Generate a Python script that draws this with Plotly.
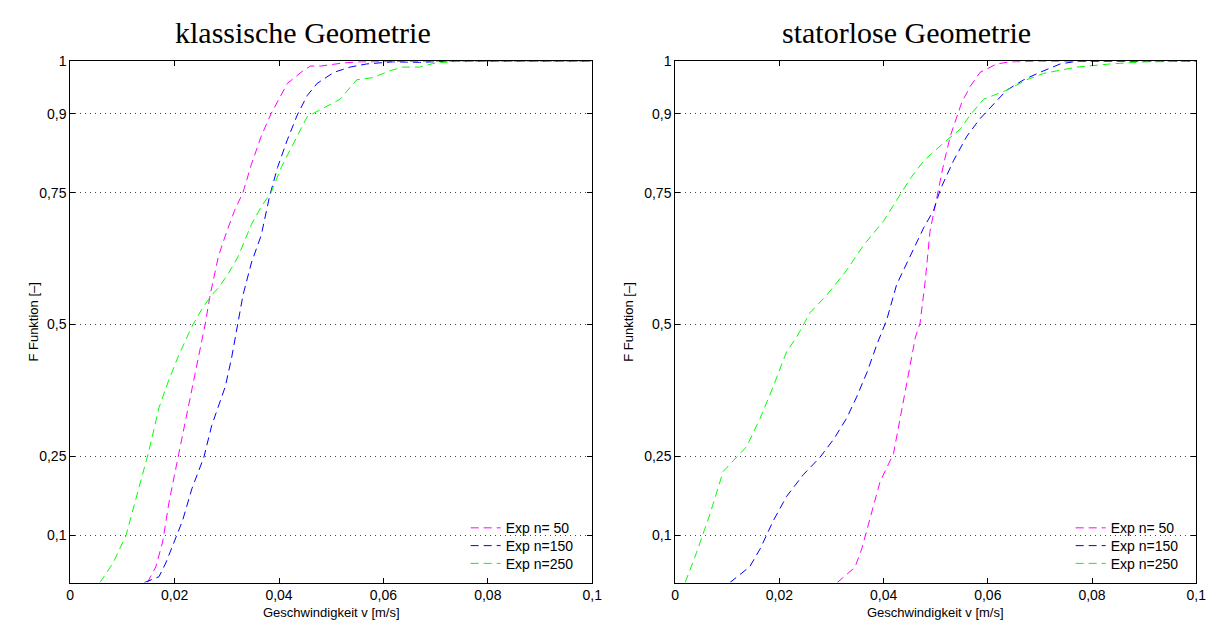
import plotly.graph_objects as go

# ---------------- data ----------------
# left: klassische Geometrie
kl_n50_x = [0.0148, 0.0164, 0.0177, 0.0189, 0.0208, 0.0221, 0.0240, 0.0259, 0.0268, 0.0284, 0.0300,
            0.0315, 0.0331, 0.0347, 0.0366, 0.0385, 0.0416, 0.0442, 0.0460, 0.0480, 0.0524, 0.0555, 0.0650, 0.1000]
kl_n50_y = [0.010, 0.040, 0.087, 0.161, 0.255, 0.320, 0.409, 0.503, 0.556, 0.630, 0.677,
            0.717, 0.751, 0.804, 0.858, 0.901, 0.958, 0.979, 0.991, 0.991, 0.997, 0.999, 1.000, 1.000]

kl_n150_x = [0.0142, 0.0170, 0.0183, 0.0202, 0.0215, 0.0233, 0.0256, 0.0271, 0.0297, 0.0309, 0.0322,
             0.0331, 0.0347, 0.0366, 0.0382, 0.0397, 0.0416, 0.0435, 0.0454, 0.0473, 0.0505, 0.0536,
             0.0568, 0.0618, 0.0669, 0.0720, 0.1000]
kl_n150_y = [0.010, 0.021, 0.047, 0.094, 0.127, 0.188, 0.248, 0.308, 0.382, 0.436, 0.509,
             0.556, 0.617, 0.670, 0.744, 0.798, 0.851, 0.898, 0.935, 0.958, 0.979, 0.989,
             0.995, 0.999, 0.998, 1.000, 1.000]

kl_n250_x = [0.0057, 0.0082, 0.0107, 0.0126, 0.0151, 0.0170, 0.0189, 0.0208, 0.0233, 0.0252, 0.0271,
             0.0284, 0.0303, 0.0322, 0.0347, 0.0366, 0.0385, 0.0404, 0.0429, 0.0454, 0.0479, 0.0517,
             0.0549, 0.0580, 0.0612, 0.0637, 0.0669, 0.0700, 0.0745, 0.1000]
kl_n250_y = [0.010, 0.047, 0.100, 0.168, 0.261, 0.342, 0.395, 0.442, 0.496, 0.529, 0.556,
             0.570, 0.597, 0.630, 0.690, 0.724, 0.751, 0.798, 0.845, 0.895, 0.908, 0.928,
             0.965, 0.969, 0.982, 0.989, 0.989, 0.997, 1.000, 1.000]

# right: statorlose Geometrie
st_n50_x = [0.0311, 0.0345, 0.0358, 0.0374, 0.0393, 0.0419, 0.0432, 0.0445, 0.0461, 0.0470, 0.0480,
            0.0489, 0.0502, 0.0515, 0.0528, 0.0541, 0.0550, 0.0566, 0.0585, 0.0617, 0.0643, 0.0700, 0.1000]
st_n50_y = [0.010, 0.039, 0.074, 0.134, 0.201, 0.255, 0.322, 0.389, 0.476, 0.503, 0.584,
            0.677, 0.744, 0.804, 0.858, 0.898, 0.922, 0.952, 0.979, 0.995, 0.999, 1.000, 1.000]

st_n150_x = [0.0105, 0.0143, 0.0163, 0.0188, 0.0214, 0.0246, 0.0278, 0.0304, 0.0329, 0.0348, 0.0368,
             0.0387, 0.0406, 0.0425, 0.0451, 0.0477, 0.0496, 0.0509, 0.0534, 0.0560, 0.0585, 0.0605,
             0.0636, 0.0669, 0.0700, 0.0739, 0.0770, 0.1000]
st_n150_y = [0.010, 0.040, 0.074, 0.127, 0.174, 0.215, 0.248, 0.282, 0.322, 0.362, 0.409,
             0.462, 0.509, 0.576, 0.630, 0.684, 0.717, 0.757, 0.811, 0.858, 0.891, 0.912,
             0.945, 0.965, 0.979, 0.995, 1.000, 1.000]

st_n250_x = [0.0019, 0.0041, 0.0067, 0.0092, 0.0111, 0.0137, 0.0163, 0.0188, 0.0214, 0.0233, 0.0259,
             0.0291, 0.0329, 0.0361, 0.0400, 0.0425, 0.0451, 0.0477, 0.0515, 0.0547, 0.0566, 0.0592,
             0.0636, 0.0675, 0.0707, 0.0771, 0.0835, 0.0900, 0.1000]
st_n250_y = [0.010, 0.067, 0.141, 0.221, 0.241, 0.268, 0.322, 0.382, 0.449, 0.476, 0.523,
             0.556, 0.603, 0.650, 0.697, 0.737, 0.777, 0.811, 0.845, 0.871, 0.898, 0.928,
             0.945, 0.965, 0.977, 0.989, 0.995, 0.999, 1.000]

series_names = ["Exp n= 50", "Exp n=150", "Exp n=250"]
series_colors = ["#ff00ff", "#0000ff", "#00ff00"]

x_tickvals = [0, 0.02, 0.04, 0.06, 0.08, 0.1]
x_ticktext = ["0", "0,02", "0,04", "0,06", "0,08", "0,1"]
y_tickvals = [0.1, 0.25, 0.5, 0.75, 0.9, 1.0]
y_ticktext = ["0,1", "0,25", "0,5", "0,75", "0,9", "1"]

titles = ["klassische Geometrie", "statorlose Geometrie"]
x_title = "Geschwindigkeit v [m/s]"
y_title = "F Funktion [\u2013]"

# ---------------- figure ----------------
W, H = 1224, 624
fig = go.Figure()

px = lambda p: p / W
py = lambda p: 1 - p / H

left = [(kl_n50_x, kl_n50_y), (kl_n150_x, kl_n150_y), (kl_n250_x, kl_n250_y)]
right = [(st_n50_x, st_n50_y), (st_n150_x, st_n150_y), (st_n250_x, st_n250_y)]

legend_font = dict(family="Liberation Sans, Arial, sans-serif", size=14, color="black")
legend_rows_y = [527, 545, 563]
legend_cfg = {}
k = 1
for panel, (series, xa, ya, lx) in enumerate([(left, "x", "y", 467), (right, "x2", "y2", 1079)]):
    for i, (xs, ys) in enumerate(series):
        lname = "legend" if k == 1 else f"legend{k}"
        fig.add_trace(go.Scatter(x=xs, y=ys, mode="lines", name=series_names[i],
                                 line=dict(color=series_colors[i], width=1, dash="8px,5px"),
                                 xaxis=xa, yaxis=ya, legend=lname))
        legend_cfg[lname] = dict(bgcolor="rgba(0,0,0,0)", borderwidth=0, yanchor="middle", xanchor="left",
                                 x=px(lx), y=py(legend_rows_y[i]), font=legend_font, itemwidth=30)
        k += 1

ax_common = dict(showline=True, linecolor="black", linewidth=1, mirror="ticks",
                 ticks="inside", ticklen=5, tickcolor="black", zeroline=False,
                 tickfont=dict(family="Liberation Sans, Arial, sans-serif", size=14, color="black"))
xax = dict(ax_common, range=[0, 0.1], tickvals=x_tickvals, ticktext=x_ticktext, showgrid=False)
yax = dict(ax_common, range=[0.01, 1], tickvals=y_tickvals, ticktext=y_ticktext, showgrid=True,
           gridcolor="#444444", gridwidth=1, griddash="1px,4px")

L0, L1 = 67, 595
R0, R1 = 679, 1206
T, B = 54, 582

fig.update_layout(
    width=W, height=H, margin=dict(l=0, r=0, t=0, b=0),
    paper_bgcolor="white", plot_bgcolor="white", showlegend=True,
    xaxis=dict(xax, domain=[px(L0), px(L1)], anchor="y"),
    yaxis=dict(yax, domain=[py(B), py(T)], anchor="x"),
    xaxis2=dict(xax, domain=[px(R0), px(R1)], anchor="y2"),
    yaxis2=dict(yax, domain=[py(B), py(T)], anchor="x2"),
    **legend_cfg,
)

ann = []
for cx, t in zip([302, 913], titles):
    ann.append(dict(text=t, x=px(cx), y=py(25), xref="paper", yref="paper", showarrow=False,
                    xanchor="center", yanchor="middle",
                    font=dict(family="Liberation Serif, Times New Roman, serif", size=30, color="black")))
for cx in [(L0 + L1) / 2, (R0 + R1) / 2]:
    ann.append(dict(text=x_title, x=px(cx), y=py(612), xref="paper", yref="paper", showarrow=False,
                    xanchor="center", yanchor="middle",
                    font=dict(family="Liberation Sans, Arial, sans-serif", size=13, color="black")))
for cx in [30, 632]:
    ann.append(dict(text=y_title, x=px(cx), y=py(318), xref="paper", yref="paper", showarrow=False,
                    xanchor="center", yanchor="middle", textangle=-90,
                    font=dict(family="Liberation Sans, Arial, sans-serif", size=13, color="black")))
fig.update_layout(annotations=ann)

fig.write_html("out.html")
